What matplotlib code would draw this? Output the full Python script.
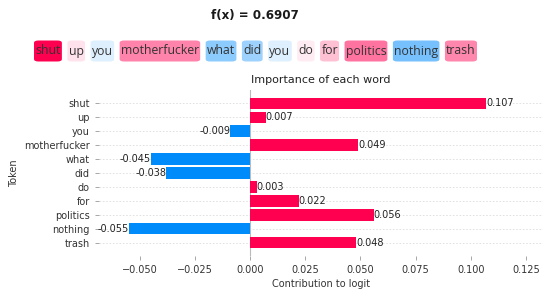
import numpy as np
import matplotlib.pyplot as plt
from matplotlib.colors import to_rgb
from matplotlib.patches import FancyBboxPatch

tokens = ["shut", "up", "you", "motherfucker", "what", "did", "do", "for",
          "politics", "nothing", "trash"]
values = [0.107, 0.007, -0.009, 0.049, -0.045, -0.038, 0.003, 0.022,
          0.056, -0.055, 0.048]

# text row (the second "you" is not in the bar chart)
row_tokens = ["shut", "up", "you", "motherfucker", "what", "did", "you", "do",
              "for", "politics", "nothing", "trash"]
row_values = [0.107, 0.007, -0.009, 0.049, -0.045, -0.038, -0.009, 0.003,
              0.022, 0.056, -0.055, 0.048]
fx = 0.6907

RED = "#ff0051"
BLUE = "#008bfb"
W, H = 550, 294


def shade(v, vmax):
    base = np.array(to_rgb(RED if v > 0 else BLUE))
    a = min(1.0, abs(v) / vmax)
    a = 0.05 + 0.95 * a
    return tuple(1 - a * (1 - base))


fig = plt.figure(figsize=(W / 100, H / 100), dpi=100)
fig.text(255 / W, 1 - 15 / H, f"f(x) = {fx}", ha="center", va="center",
         fontsize=8.6, fontweight="bold", color="#1a1a1a")

# token row, laid out left to right by measured text width
renderer = fig.canvas.get_renderer()
vmax = max(abs(v) for v in row_values)
hpad, gap, box_h, yc = 1.3, 5.5, 21, 51
fs = 10
texts = [fig.text(0, 1 - yc / H, tok, ha="left", va="center", fontsize=fs,
                  family="Open Sans", color="#333333", zorder=3)
         for tok in row_tokens]
widths = [t.get_window_extent(renderer).width for t in texts]
target = 443 - len(texts) * 2 * hpad - (len(texts) - 1) * gap
k = target / sum(widths)
x = 34
for t, w, v in zip(texts, widths, row_values):
    t.set_fontsize(fs * k)
    w = w * k
    t.set_x((x + hpad) / W)
    fig.patches.append(FancyBboxPatch(
        (x / W, 1 - (yc + box_h / 2) / H), (w + 2 * hpad) / W, box_h / H,
        boxstyle="round,pad=0,rounding_size=0.008", transform=fig.transFigure,
        fc=shade(v, vmax), ec="none", zorder=1))
    x += w + 2 * hpad + gap

ax = fig.add_axes([99 / W, 1 - 256 / H, 444 / W, 166 / H])
ypos = np.arange(len(tokens))
colors = [RED if v > 0 else BLUE for v in values]
ax.barh(ypos, values, height=0.8, color=colors, zorder=3)
ax.invert_yaxis()
ax.set_yticks(ypos)
ax.set_yticklabels(tokens, fontsize=7, color="#333333")
ax.axvline(0, color="#bbbbbb", lw=0.8, zorder=2)
for y, v in zip(ypos, values):
    ax.text(v, y, f"{v:.3f}", ha="left" if v > 0 else "right", va="center",
            fontsize=7, color="#222222", zorder=4)
xt = [-0.05, -0.025, 0, 0.025, 0.05, 0.075, 0.1, 0.125]
ax.set_xlim(-0.0685, 0.1328)
ax.set_xticks(xt)
ax.set_xticklabels([f"{t:.3f}".replace("-", "\u2212") for t in xt])
ax.tick_params(axis="x", labelsize=7, colors="#333333", length=3,
               width=0.6, color="#999999")
ax.tick_params(axis="y", length=3, width=0.6, color="#999999")
for s in ax.spines.values():
    s.set_visible(False)
ax.grid(axis="y", ls=(0, (2, 2)), color="#dddddd", lw=0.6, zorder=0)
ax.set_title("Importance of each word", fontsize=8, color="#222222", pad=5)
ax.set_xlabel("Contribution to logit", fontsize=7, color="#333333", labelpad=3)
ax.set_ylabel("Token", fontsize=7, color="#333333")

fig.savefig("out.png", dpi=100)
